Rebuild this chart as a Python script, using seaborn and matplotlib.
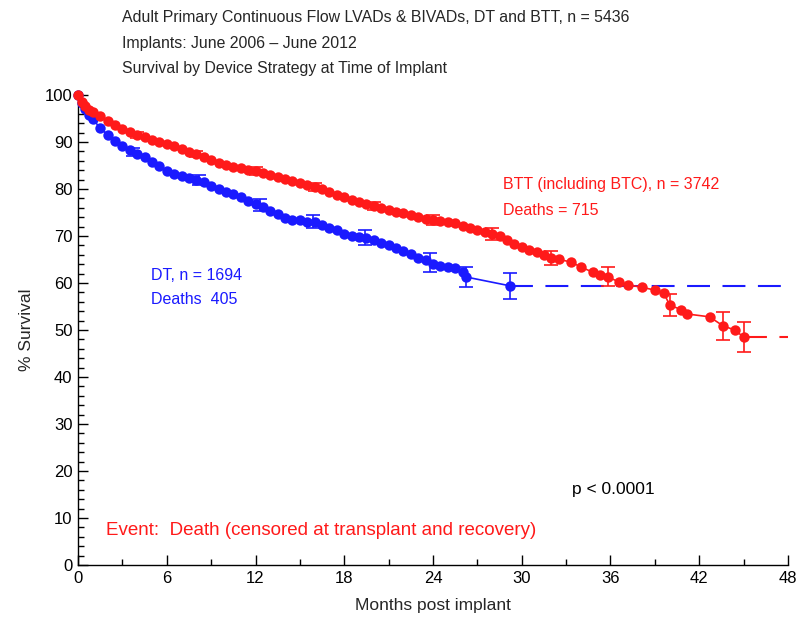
import matplotlib
matplotlib.use("Agg")
import matplotlib.pyplot as plt
from matplotlib.ticker import MultipleLocator
import seaborn as sns
import pandas as pd

# BTT (including BTC) survival, months vs %
btt_months = [0, 0.25, 0.5, 0.75, 1, 1.5, 2, 2.5, 3, 3.5, 4, 4.5, 5, 5.5, 6, 6.5, 7, 7.5,
              8, 8.5, 9, 9.5, 10, 10.5, 11, 11.5, 12, 12.5, 13, 13.5, 14, 14.5, 15, 15.5,
              16, 16.5, 17, 17.5, 18, 18.5, 19, 19.5, 20, 20.5, 21, 21.5, 22, 22.5, 23,
              23.5, 24, 24.5, 25, 25.5, 26, 26.5, 27, 27.5, 28, 28.5, 29, 29.5, 30, 30.5,
              31, 31.5, 32, 32.5, 33.3, 34, 34.8, 35.3, 35.8, 36.6, 37.2, 38.1, 39.0, 39.6,
              40.0, 40.8, 41.2, 42.7, 43.6, 44.4, 45.0]
btt_surv = [100, 98.5, 97.6, 96.9, 96.3, 95.5, 94.5, 93.6, 92.8, 92.2, 91.5, 91.0, 90.5,
            90.0, 89.6, 89.1, 88.5, 87.9, 87.4, 86.8, 86.2, 85.6, 85.1, 84.7, 84.4, 84.1,
            83.8, 83.5, 83.0, 82.5, 82.1, 81.6, 81.3, 80.9, 80.4, 79.9, 79.3, 78.7, 78.2,
            77.7, 77.2, 76.8, 76.4, 75.9, 75.5, 75.1, 74.8, 74.4, 74.0, 73.7, 73.4, 73.1,
            73.0, 72.7, 72.2, 71.8, 71.3, 70.8, 70.4, 70.0, 69.1, 68.3, 67.6, 67.0, 66.6,
            66.0, 65.3, 65.0, 64.5, 63.4, 62.3, 61.7, 61.3, 60.2, 59.6, 59.1, 58.5, 57.9,
            55.3, 54.3, 53.4, 52.8, 50.9, 50.0, 48.5]

# DT survival
dt_months = [0, 0.25, 0.5, 0.75, 1, 1.5, 2, 2.5, 3, 3.5, 4, 4.5, 5, 5.5, 6, 6.5, 7, 7.5,
             8, 8.5, 9, 9.5, 10, 10.5, 11, 11.5, 12, 12.5, 13, 13.5, 14, 14.5, 15, 15.5,
             16, 16.5, 17, 17.5, 18, 18.5, 19, 19.5, 20, 20.5, 21, 21.5, 22, 22.5, 23,
             23.5, 24, 24.5, 25, 25.5, 26, 26.2, 29.2]
dt_surv = [100, 98.3, 97.0, 95.8, 94.8, 93.0, 91.5, 90.2, 89.2, 88.3, 87.5, 86.7, 85.8,
           84.8, 83.8, 83.2, 82.7, 82.3, 81.9, 81.4, 80.7, 80.0, 79.4, 78.9, 78.3, 77.5,
           76.7, 76.1, 75.4, 74.6, 73.8, 73.4, 73.3, 73.0, 72.9, 72.3, 71.8, 71.3, 70.5,
           70.0, 69.8, 69.5, 69.1, 68.6, 68.0, 67.4, 66.8, 66.1, 65.4, 64.8, 64.1, 63.6,
           63.3, 63.1, 62.3, 61.3, 59.4]

# confidence bars (month, survival, half width)
btt_err_months = [4, 8, 12, 16, 20, 24, 28, 32, 35.8, 40.0, 43.6, 45.0]
btt_err_surv = [91.5, 87.4, 83.8, 80.4, 76.4, 73.4, 70.4, 65.3, 61.3, 55.3, 50.9, 48.5]
btt_err_half = [0.6, 0.7, 0.8, 0.9, 0.9, 1.0, 1.2, 1.5, 2.0, 2.4, 3.0, 3.1]

dt_err_months = [3.7, 8.2, 12.3, 15.9, 19.4, 23.8, 26.2, 29.2]
dt_err_surv = [87.9, 81.9, 76.6, 73.0, 69.6, 64.3, 61.3, 59.4]
dt_err_half = [0.9, 1.0, 1.2, 1.4, 1.6, 2.0, 2.1, 2.8]

end_month = 48

RED = "#ff1a1a"
BLUE = "#1a1aff"

sns.set_style("ticks")
plt.rcParams["font.family"] = ["Liberation Sans", "DejaVu Sans"]

fig = plt.figure(figsize=(8.02, 6.2), dpi=100)
ax = fig.add_axes([0.0973, 0.0887, 0.8852, 0.7581])

btt = pd.DataFrame({"month": btt_months, "surv": btt_surv})
dt = pd.DataFrame({"month": dt_months, "surv": dt_surv})

# DT first so the BTT curve sits on top
for k, (df, col, em, es, eh) in enumerate(
        [(dt, BLUE, dt_err_months, dt_err_surv, dt_err_half),
         (btt, RED, btt_err_months, btt_err_surv, btt_err_half)]):
    z = 2 + 3 * k
    # dashed extension after last event
    last = df.iloc[-1]
    ax.plot([last["month"], end_month], [last["surv"], last["surv"]], color=col,
            lw=1.5, dashes=(11, 6), zorder=z)
    sns.lineplot(data=df, x="month", y="surv", ax=ax, color=col, lw=1.2,
                 marker="o", markersize=7.5, markeredgewidth=0, zorder=z + 1,
                 clip_on=False)
    ax.errorbar(em, es, yerr=eh, fmt="none", ecolor=col, elinewidth=1.2,
                capsize=5, capthick=1.2, zorder=z + 2)

ax.set_xlim(0, 48)
ax.set_ylim(0, 100)
ax.xaxis.set_major_locator(MultipleLocator(6))
ax.xaxis.set_minor_locator(MultipleLocator(3))
ax.yaxis.set_major_locator(MultipleLocator(10))
ax.yaxis.set_minor_locator(MultipleLocator(2))
ax.tick_params(which="both", direction="in", colors="black", labelsize=12, width=1.0)
ax.tick_params(which="major", length=7, pad=4)
ax.tick_params(which="minor", length=4)
sns.despine(ax=ax)
for s in ["left", "bottom"]:
    ax.spines[s].set_color("black")
    ax.spines[s].set_linewidth(1.0)

ax.set_xlabel("Months post implant", fontsize=12.5, labelpad=9)
ax.set_ylabel("% Survival", fontsize=12.5, labelpad=8)

ax.text(28.7, 80.9, "BTT (including BTC), n = 3742", color=RED, fontsize=11.5, va="center")
ax.text(28.7, 75.5, "Deaths = 715", color=RED, fontsize=11.5, va="center")
ax.text(4.9, 61.7, "DT, n = 1694", color=BLUE, fontsize=11.5, va="center")
ax.text(4.9, 56.4, "Deaths  405", color=BLUE, fontsize=11.5, va="center")
ax.text(33.4, 16.0, "p < 0.0001", color="black", fontsize=12.5, va="center")
ax.text(1.9, 7.4, "Event:  Death (censored at transplant and recovery)", color=RED,
        fontsize=13.5, va="center")

titles = ["Adult Primary Continuous Flow LVADs & BIVADs, DT and BTT, n = 5436",
          "Implants: June 2006 \u2013 June 2012",
          "Survival by Device Strategy at Time of Implant"]
for i, t in enumerate(titles):
    fig.text(0.152, 0.971 - i * 0.0405, t, fontsize=11.4, va="center", ha="left")

fig.savefig("out.png", dpi=100)
